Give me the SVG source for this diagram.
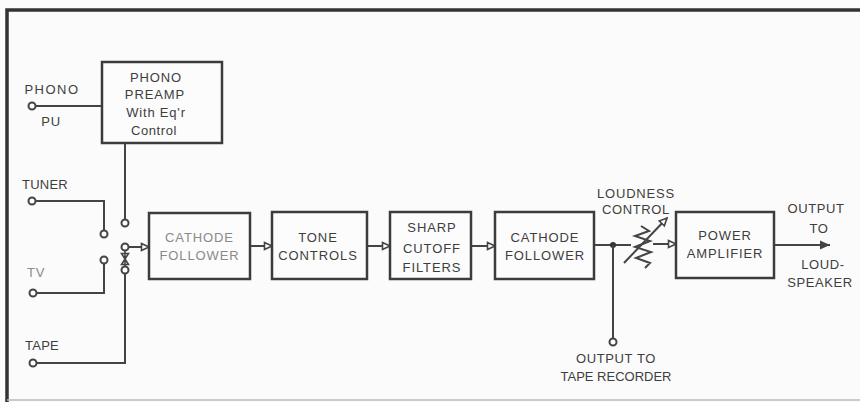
<svg xmlns="http://www.w3.org/2000/svg" width="860" height="402" viewBox="0 0 860 402">
<defs>
<style>
.bg{fill:#fbfbfb}
.frame{stroke:#333;stroke-width:3.5;fill:none}
.box{fill:#fcfcfc;stroke:#3c3c3c;stroke-width:2.5}
.ln{stroke:#444;stroke-width:2;fill:none}
.term{fill:#fff;stroke:#444;stroke-width:2}
text{font-family:"Liberation Sans",Arial,sans-serif;font-size:13px;fill:#3e3e3e;text-anchor:middle;letter-spacing:0.6px}
.bt{letter-spacing:0.9px}
.light{fill:#8a8a8a}
</style>
<marker id="oa" markerUnits="userSpaceOnUse" markerWidth="12" markerHeight="12" refX="8" refY="4" orient="auto" overflow="visible">
<path d="M0.5,0.5 L8,4 L0.5,7.5 Z" fill="#fff" stroke="#444" stroke-width="1.6"/>
</marker>
<marker id="fa" markerUnits="userSpaceOnUse" markerWidth="14" markerHeight="12" refX="10" refY="4.5" orient="auto" overflow="visible">
<path d="M0,0 L10,4.5 L0,9 Z" fill="#444"/>
</marker>
</defs>
<rect class="bg" x="0" y="0" width="860" height="402"/>
<g id="frame">
<path class="frame" d="M7,402 V10 H860"/>
<line x1="7" y1="400" x2="860" y2="400" stroke="#bbb" stroke-width="1.5"/>
</g>

<g id="connectors">
<line class="ln" x1="35.5" y1="106" x2="102" y2="106"/>
<line class="ln" x1="125" y1="143" x2="125" y2="219.5"/>
<polyline class="ln" points="35.5,201 104,201 104,230.5"/>
<polyline class="ln" points="36.5,293 104,293 104,263.5"/>
<polyline class="ln" points="36.5,363 125,363 125,273.5"/>
<line class="ln" x1="128.5" y1="247" x2="149" y2="247" marker-end="url(#oa)"/>
<path d="M125,250.5 V266.5 M121.5,253.5 L128.5,253.5 L125,259 Z M125,259 L128.5,264.5 L121.5,264.5 Z" stroke="#444" stroke-width="1.6" fill="#fff"/>
<line class="ln" x1="250" y1="246" x2="272" y2="246" marker-end="url(#oa)"/>
<line class="ln" x1="367" y1="246" x2="390" y2="246" marker-end="url(#oa)"/>
<line class="ln" x1="471" y1="246" x2="495" y2="246" marker-end="url(#oa)"/>
<line class="ln" x1="594" y1="245" x2="631" y2="245"/>
<circle cx="613" cy="245" r="3" fill="#333"/>
<line class="ln" x1="613" y1="245" x2="613" y2="338.5"/>
<line class="ln" x1="653" y1="244" x2="676" y2="244" marker-end="url(#oa)"/>
<line class="ln" x1="774" y1="245" x2="830" y2="245" marker-end="url(#fa)"/>
</g>

<g id="terminals">
<circle class="term" cx="32" cy="106" r="3.5"/>
<circle class="term" cx="32" cy="201" r="3.5"/>
<circle class="term" cx="33" cy="293" r="3.5"/>
<circle class="term" cx="33" cy="363" r="3.5"/>
<circle class="term" cx="125" cy="223" r="3.5"/>
<circle class="term" cx="104" cy="234" r="3.5"/>
<circle class="term" cx="104" cy="260" r="3.5"/>
<circle class="term" cx="125" cy="247" r="3.5"/>
<circle class="term" cx="125" cy="270" r="3.5"/>
<circle class="term" cx="613" cy="342" r="3.5"/>
</g>

<g id="labels">
<text x="52" y="94" style="letter-spacing:1.5px">PHONO</text>
<text x="51" y="126">PU</text>
<text x="45" y="188.5" style="letter-spacing:0.2px">TUNER</text>
<text x="36" y="276.5" class="light">TV</text>
<text x="42" y="349.5" style="letter-spacing:0.2px">TAPE</text>
</g>

<g id="phono-preamp">
<rect class="box" x="102" y="62" width="120" height="81"/>
<text x="156" y="82" class="bt">PHONO</text>
<text x="155" y="99" class="bt">PREAMP</text>
<text x="156" y="116.5" style="letter-spacing:0.8px">With Eq'r</text>
<text x="154" y="134.5">Control</text>
</g>

<g id="cathode-follower-1">
<rect class="box" x="149" y="213" width="101" height="66"/>
<text x="199.5" y="242" class="bt light">CATHODE</text>
<text x="199.5" y="259.5" class="bt light">FOLLOWER</text>
</g>

<g id="tone-controls">
<rect class="box" x="272" y="212" width="95" height="67"/>
<text x="318" y="242" class="bt">TONE</text>
<text x="318" y="259.5" class="bt">CONTROLS</text>
</g>

<g id="sharp-cutoff-filters">
<rect class="box" x="390" y="212" width="81" height="67"/>
<text x="432" y="232" class="bt">SHARP</text>
<text x="432" y="253" class="bt">CUTOFF</text>
<text x="432" y="271.5" class="bt">FILTERS</text>
</g>

<g id="cathode-follower-2">
<rect class="box" x="495" y="212" width="99" height="67"/>
<text x="545" y="242" class="bt">CATHODE</text>
<text x="545" y="259.5" class="bt">FOLLOWER</text>
</g>

<g id="loudness-control">
<polyline class="ln" points="641,226 649,231 635,236 650,241 635,247 651,252 636,258 650,263 645,268"/>
<line class="ln" x1="624" y1="263" x2="667" y2="218" marker-end="url(#oa)"/>
<text x="636" y="197.5" style="letter-spacing:0.8px">LOUDNESS</text>
<text x="636" y="213.5" style="letter-spacing:0.6px">CONTROL</text>
</g>

<g id="power-amplifier">
<rect class="box" x="676" y="212" width="98" height="66"/>
<text x="725" y="240" class="bt">POWER</text>
<text x="725" y="257.5" class="bt">AMPLIFIER</text>
</g>

<g id="output-speaker">
<text x="816" y="213">OUTPUT</text>
<text x="819" y="233">TO</text>
<text x="823" y="268.5">LOUD-</text>
<text x="820" y="286.5">SPEAKER</text>
</g>

<g id="output-tape">
<text x="616" y="363">OUTPUT TO</text>
<text x="616" y="380.5" style="letter-spacing:0px">TAPE RECORDER</text>
</g>
</svg>
